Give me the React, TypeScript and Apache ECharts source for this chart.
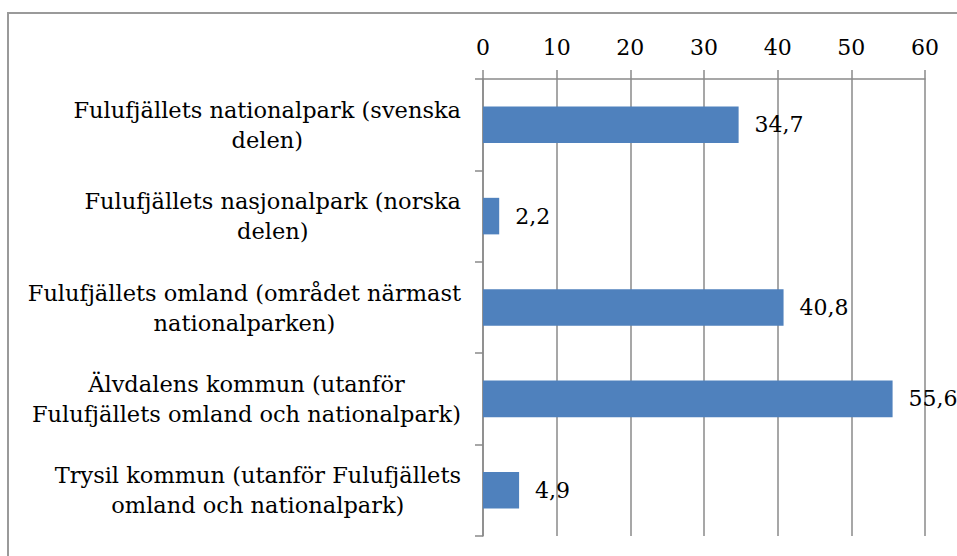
import React, { useEffect, useRef } from 'react';
import * as echarts from 'echarts';

const categories = [
  'Fulufjällets nationalpark (svenska\ndelen)',
  'Fulufjällets nasjonalpark (norska\ndelen)',
  'Fulufjällets omland (området närmast\nnationalparken)',
  'Älvdalens kommun (utanför\nFulufjällets omland och nationalpark)',
  'Trysil kommun (utanför Fulufjällets\nomland och nationalpark)',
];
const values = [34.7, 2.2, 40.8, 55.6, 4.9];
const axisMin = 0;
const axisMax = 60;
const axisStep = 10;

const FONT = '"DejaVu Serif", "Liberation Serif", serif';
const GRAY = '#8a8a8a';

export default function App() {
  const ref = useRef<HTMLDivElement>(null);
  useEffect(() => {
    if (!ref.current) return;
    const chart = echarts.init(ref.current, undefined, { renderer: 'svg' });
    chart.setOption({
      animation: false,
      grid: { left: 483, right: 32, top: 79, bottom: 20, containLabel: false },
      xAxis: {
        type: 'value',
        position: 'top',
        min: axisMin,
        max: axisMax,
        interval: axisStep,
        axisLine: { show: true, lineStyle: { color: GRAY, width: 1.5 } },
        axisTick: { show: true, length: 9, lineStyle: { color: GRAY, width: 1.5 } },
        splitLine: { show: true, lineStyle: { color: GRAY, width: 1.5 } },
        axisLabel: { fontFamily: FONT, fontSize: 22, color: '#000', margin: 21 },
      },
      yAxis: {
        type: 'category',
        inverse: true,
        data: categories,
        axisLine: { show: true, lineStyle: { color: GRAY, width: 1.5 } },
        axisTick: { show: true, length: 8, lineStyle: { color: GRAY, width: 1.5 } },
        axisLabel: {
          margin: 22,
          align: 'right',
          formatter: (v: string) => v.split('\n').map((l) => `{c|${l}}`).join('\n'),
          rich: {
            c: { align: 'center', fontFamily: FONT, fontSize: 22.5, lineHeight: 30, color: '#000' },
          },
        },
      },
      series: [
        {
          type: 'bar',
          data: values,
          barCategoryGap: '60%',
          itemStyle: { color: '#4F81BD' },
          label: {
            show: true,
            position: 'right',
            distance: 16,
            fontFamily: FONT,
            fontSize: 22,
            color: '#000',
            formatter: (p: any) => String(p.value).replace('.', ','),
          },
        },
      ],
    });
    return () => chart.dispose();
  }, []);
  return (
    <div style={{ position: 'fixed', left: 0, top: 0, width: 957, height: 556, overflow: 'hidden', background: '#fff' }}>
      <div
        style={{
          position: 'absolute',
          left: 7,
          top: 12,
          width: 1100,
          height: 1100,
          border: '2px solid #9a9a9a',
          boxSizing: 'border-box',
        }}
      />
      <div ref={ref} style={{ position: 'absolute', left: 0, top: 0, width: 957, height: 556 }} />
    </div>
  );
}
